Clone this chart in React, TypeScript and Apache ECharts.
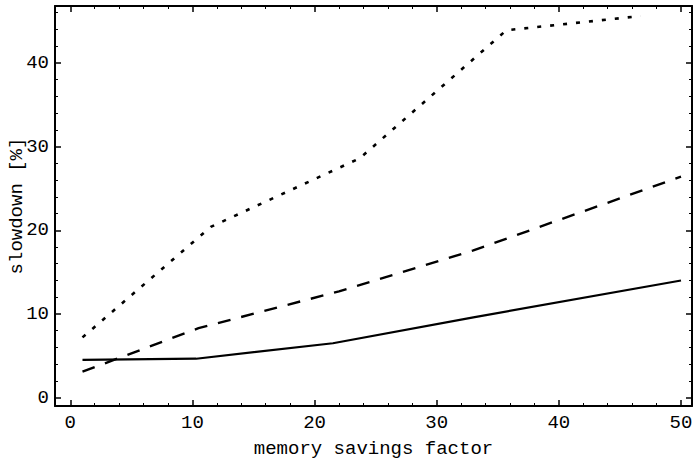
import React, { useEffect, useRef } from "react";
import * as echarts from "echarts";

// x values / y values (slowdown %) per series
const solidData: [number, number][] = [
  [1, 4.5], [10.3, 4.65], [21.5, 6.5], [33, 9.6], [50, 14.0],
];
const dashedData: [number, number][] = [
  [1, 3.1], [10.5, 8.3], [22, 12.7], [33, 17.6], [50, 26.4],
];
const dottedData: [number, number][] = [
  [1, 7.2], [11.5, 20.4], [23.7, 28.6], [35.7, 43.9], [46.7, 45.6],
];

const xMajor = [0, 10, 20, 30, 40, 50];
const xMinor = [2, 4, 6, 8, 12, 14, 16, 18, 22, 24, 26, 28, 32, 34, 36, 38, 42, 44, 46, 48];
const yMajor = [0, 10, 20, 30, 40];
const yMinor = [2, 4, 6, 8, 12, 14, 16, 18, 22, 24, 26, 28, 32, 34, 36, 38, 42, 44, 46];

const X_MIN = -1.25, X_MAX = 50.9, Y_MIN = -1.0, Y_MAX = 46.8;
const FONT = "'Courier New', 'Liberation Mono', monospace";

export default function App() {
  const ref = useRef<HTMLDivElement>(null);
  useEffect(() => {
    if (!ref.current) return;
    const chart = echarts.init(ref.current, undefined, { renderer: "svg" });
    const gridRect = { left: 55, right: 2, top: 6, bottom: 58, containLabel: false, outerBoundsMode: "none" };
    const black = "#000";
    const majorTick = (vals: number[]) => ({ show: true, inside: true, length: 6, customValues: vals, lineStyle: { color: black, width: 1.5 } });
    const minorTick = (vals: number[]) => ({ show: true, inside: true, length: 3, customValues: vals, lineStyle: { color: black, width: 1 } });
    const line = { show: true, onZero: false, lineStyle: { color: black, width: 2 } };
    const noLine = { show: false, onZero: false };
    const xBase = { type: "value", min: X_MIN, max: X_MAX, splitLine: { show: false } };
    const yBase = { type: "value", min: Y_MIN, max: Y_MAX, splitLine: { show: false } };
    chart.setOption({
      animation: false,
      backgroundColor: "#fff",
      grid: [{ ...gridRect }, { ...gridRect }],
      xAxis: [
        {
          ...xBase, gridIndex: 0, position: "bottom", axisLine: line,
          axisTick: majorTick(xMajor),
          axisLabel: { customValues: xMajor, fontFamily: FONT, fontSize: 19, color: black, margin: 7 },
          name: "memory savings factor", nameLocation: "middle", nameGap: 33,
          nameTextStyle: { fontFamily: FONT, fontSize: 19, color: black },
        },
        { ...xBase, gridIndex: 0, position: "top", axisLine: line, axisTick: majorTick(xMajor), axisLabel: { show: false } },
        { ...xBase, gridIndex: 1, position: "bottom", axisLine: noLine, axisTick: minorTick(xMinor), axisLabel: { show: false } },
        { ...xBase, gridIndex: 1, position: "top", axisLine: noLine, axisTick: minorTick(xMinor), axisLabel: { show: false } },
      ],
      yAxis: [
        {
          ...yBase, gridIndex: 0, position: "left", axisLine: line,
          axisTick: majorTick(yMajor),
          axisLabel: { customValues: yMajor, fontFamily: FONT, fontSize: 19, color: black, margin: 6 },
          name: "slowdown [%]", nameLocation: "middle", nameGap: 29, nameMoveOverlap: false,
          nameTextStyle: { fontFamily: FONT, fontSize: 19, color: black },
        },
        { ...yBase, gridIndex: 0, position: "right", axisLine: line, axisTick: majorTick(yMajor), axisLabel: { show: false } },
        { ...yBase, gridIndex: 1, position: "left", axisLine: noLine, axisTick: minorTick(yMinor), axisLabel: { show: false } },
        { ...yBase, gridIndex: 1, position: "right", axisLine: noLine, axisTick: minorTick(yMinor), axisLabel: { show: false } },
      ],
      series: [
        { type: "line", xAxisIndex: 0, yAxisIndex: 0, data: solidData, showSymbol: false, symbol: "none", lineStyle: { color: black, width: 2.2, type: "solid" } },
        { type: "line", xAxisIndex: 0, yAxisIndex: 0, data: dashedData, showSymbol: false, symbol: "none", lineStyle: { color: black, width: 2.4, type: [13, 11] } },
        { type: "line", xAxisIndex: 0, yAxisIndex: 0, data: dottedData, showSymbol: false, symbol: "none", lineStyle: { color: black, width: 2.6, type: [4, 9] } },
        { type: "line", xAxisIndex: 2, yAxisIndex: 2, data: [], showSymbol: false },
      ],
    });
    return () => chart.dispose();
  }, []);
  return <div ref={ref} style={{ position: "fixed", left: 0, top: 0, width: 694, height: 464 }} />;
}
